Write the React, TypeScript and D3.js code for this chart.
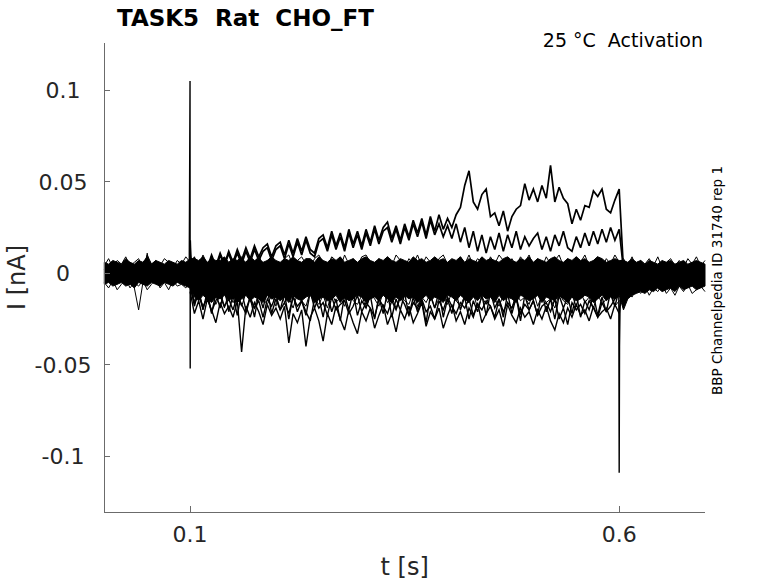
import * as d3 from 'd3'

const DT = 0.005
const STIM_START = 0.1

const X_TICKS = [0.1, 0.6]
const X_TICK_LABELS = ['0.1', '0.6']
const Y_TICKS = [-0.1, -0.05, 0, 0.05, 0.1]
const Y_TICK_LABELS = ['-0.1', '-0.05', '0', '0.05', '0.1']

// dense baseline band (envelope of the overlapping sweeps), t = 0 .. 0.7
const BAND_HI = [
  6, 5, 7, 6, 5, 8, 6, 5, 7, 6, 9, 5, 7, 6, 5, 7, 6, 5, 7, 6,
  8,
  8, 7, 9, 6, 8, 7, 7, 9, 6, 8, 7, 8, 6, 9, 7, 8, 6, 7, 9, 7,
  6, 8, 7, 9, 7, 6, 8, 8, 6, 9, 7, 6, 8, 7, 9, 6, 7, 8, 6, 8,
  9, 7, 6, 8, 7, 9, 7, 6, 8, 7, 6, 9, 7, 8, 6, 7, 9, 7, 8, 6,
  8, 7, 9, 6, 8, 7, 6, 9, 7, 8, 7, 6, 8, 9, 7, 6, 8, 7, 9, 6,
  8, 7, 6, 8, 9, 7, 6, 8, 7, 9, 7, 8, 6, 7, 9, 8, 6, 7, 8, 7,
  7, 6, 8, 6, 7, 5, 7, 6, 5, 7, 6, 7, 5, 6, 7, 5, 6, 7, 6, 5,
]
const BAND_LO = [
  -6, -5, -7, -6, -5, -7, -6, -8, -5, -6, -7, -5, -6, -7, -5, -6, -7, -5, -6, -7,
  -8,
  -13, -15, -12, -14, -16, -13, -14, -12, -15, -13, -16, -14, -12, -15, -13, -14, -16, -12, -14, -13,
  -15, -13, -16, -12, -14, -15, -13, -12, -16, -14, -13, -15, -14, -12, -16, -13, -15, -14, -12, -13,
  -16, -14, -13, -15, -12, -14, -16, -13, -15, -12, -14, -13, -16, -14, -12, -15, -13, -14, -16, -12,
  -13, -15, -12, -14, -16, -13, -15, -12, -14, -13, -16, -12, -15, -13, -14, -16, -12, -13, -15, -14,
  -12, -16, -13, -14, -15, -12, -14, -16, -13, -15, -14, -12, -13, -16, -14, -12, -15, -13, -14, -12,
  -20, -14, -12, -11, -10, -11, -9, -10, -8, -10, -9, -8, -10, -7, -9, -8, -7, -9, -8, -7,
]

// sweeps poking out of the band edges, t = 0 .. 0.7
const NOISE_TOP = [
  4, 8, 3, 7, 5, 9, 4, 6, 8, 3, 10, 5, 7, 4, 8, 6, 3, 7, 5, 9, 6,
  9, 4, 10, 5, 8, 3, 9, 6, 10, 4, 7, 9, 3, 8, 5, 10, 4, 7, 9, 5,
  3, 8, 10, 4, 7, 9, 5, 3, 8, 10, 6, 4, 9, 7, 3, 10, 5, 8, 4, 9,
  10, 6, 3, 8, 5, 9, 4, 10, 7, 3, 8, 5, 10, 4, 9, 6, 3, 8, 10, 5,
  7, 3, 9, 5, 10, 4, 8, 6, 3, 9, 5, 10, 7, 3, 8, 4, 9, 6, 10, 4,
  8, 3, 9, 5, 7, 10, 4, 8, 3, 9, 6, 10, 4, 7, 9, 3, 8, 5, 10, 6,
  8, 4, 9, 3, 7, 5, 8, 4, 9, 3, 6, 8, 4, 7, 3, 8, 5, 9, 4, 7,
]
const NOISE_BOT = [
  -5, -8, -4, -9, -6, -3, -8, -5, -7, -4, -9, -6, -3, -8, -5, -9, -4, -7, -6, -8, -5,
  -15, -11, -18, -13, -9, -17, -12, -19, -10, -16, -13, -18, -11, -15, -19, -10, -14, -17, -12, -18,
  -9, -16, -13, -19, -11, -15, -18, -10, -14, -17, -12, -19, -11, -16, -13, -18, -10, -15, -17, -12,
  -19, -11, -14, -18, -10, -16, -13, -19, -12, -15, -17, -10, -18, -13, -16, -11, -19, -14, -12, -17,
  -10, -15, -18, -12, -16, -11, -19, -13, -17, -10, -14, -18, -12, -16, -19, -11, -15, -13, -17, -10,
  -18, -12, -16, -14, -19, -11, -15, -17, -12, -18, -10, -16, -13, -19, -11, -17, -14, -12, -18, -15,
  -16, -10, -13, -8, -11, -7, -12, -8, -10, -6, -11, -8, -12, -7, -10, -6, -11, -9, -7, -10,
]

// pre-stimulus sweep with the isolated glitches, t = 0 .. 0.1
const PRE_TRACE = [2, -3, 5, -6, 3, -4, 6, -8, -20, -5, 11, -3, 4, -7, 2, -5, 6, -4, 3, -6, 1]

// sweeps during the step, t = 0.1 .. 0.6
const UP_TRACE_A = [
  2, 8, 1, 9, 3, 10, 4, 11, 5, 12, 6,
  13, 7, 14, 8, 15, 9, 14, 16, 9, 15,
  17, 10, 18, 11, 19, 12, 20, 13, 11, 19,
  21, 14, 23, 15, 22, 14, 24, 16, 23, 15,
  24, 17, 26, 18, 25, 28, 19, 26, 18, 27,
  20, 29, 22, 30, 21, 31, 23, 32, 24, 30,
  25, 32, 36, 48, 56, 39, 35, 43, 46, 31,
  33, 26, 34, 23, 31, 35, 37, 49, 40, 46,
  39, 48, 41, 59, 39, 47, 41, 38, 27, 35,
  29, 37, 36, 45, 42, 46, 35, 33, 40, 46,
]
const UP_TRACE_B = [
  1, 7, 0, 8, 2, 9, 3, 10, 4, 11, 5,
  11, 5, 12, 6, 13, 7, 12, 14, 7, 13,
  15, 8, 16, 9, 17, 10, 18, 11, 9, 17,
  19, 12, 21, 13, 20, 12, 22, 14, 21, 13,
  22, 15, 24, 16, 23, 25, 17, 24, 16, 25,
  18, 27, 20, 28, 19, 29, 21, 27, 20, 26,
  19, 27, 17, 25, 14, 23, 12, 21, 11, 20,
  13, 22, 12, 21, 14, 23, 13, 20, 15, 19,
  22, 13, 20, 12, 21, 15, 23, 14, 12, 20,
  14, 22, 15, 23, 16, 24, 17, 25, 18, 24,
]
const LOW_TRACE_C = [
  -10, -22, -15, -25, -14, -20, -27, -16, -22, -18, -24,
  -15, -43, -18, -24, -16, -21, -28, -17, -23, -19,
  -25, -18, -38, -22, -27, -20, -40, -24, -19, -26,
  -37, -22, -28, -18, -25, -31, -20, -27, -33, -21,
  -26, -19, -30, -23, -17, -28, -22, -32, -20, -25,
  -18, -27, -22, -16, -29, -21, -25, -19, -30, -23,
  -17, -26, -21, -28, -19, -24, -16, -27, -22, -18,
  -25, -20, -29, -17, -23, -27, -19, -24, -21, -28,
  -20, -25, -18, -26, -31, -22, -27, -19, -24, -17,
  -23, -20, -26, -18, -24, -21, -19, -25, -17, -22,
]
const LOW_TRACE_D = [
  -8, -16, -12, -19, -13, -21, -15, -11, -18, -14, -20,
  -12, -17, -22, -13, -19, -15, -24, -14, -18, -12,
  -20, -16, -22, -13, -18, -15, -21, -26, -14, -19,
  -16, -23, -13, -20, -17, -15, -22, -18, -12, -21,
  -16, -19, -24, -14, -18, -22, -15, -20, -13, -17,
  -23, -16, -19, -14, -21, -18, -25, -15, -20, -13,
  -18, -22, -16, -19, -14, -23, -17, -20, -15, -18,
  -24, -14, -21, -16, -19, -13, -22, -17, -20, -15,
  -23, -18, -16, -21, -14, -25, -19, -28, -16, -20,
  -17, -22, -15, -19, -24, -16, -21, -18, -14, -12,
]
const LOW_TRACE_E = [
  -6, -18, -9, -20, -10, -22, -11, -19, -8, -21, -12,
  -23, -10, -20, -13, -24, -11, -19, -9, -22, -14,
  -20, -11, -25, -12, -21, -15, -23, -10, -19, -13,
  -24, -11, -21, -14, -26, -12, -20, -10, -23, -15,
  -19, -12, -25, -13, -22, -10, -24, -14, -20, -11,
  -23, -13, -21, -15, -27, -12, -19, -10, -24, -14,
  -22, -11, -20, -13, -25, -15, -21, -12, -23, -10,
  -19, -14, -24, -11, -22, -13, -26, -12, -20, -15,
  -23, -10, -21, -14, -25, -12, -19, -13, -22, -11,
  -24, -15, -20, -12, -23, -13, -21, -10, -18, -9,
]

// capacitive transients at step on/off
const ON_T = [0.099, 0.0999, 0.1001, 0.1003, 0.1006, 0.101, 0.1015, 0.103]
const ON_V = [3, 105, -52, 18, 14, 10, 7, 4]
const OFF_T = [0.5995, 0.6, 0.6004, 0.6009, 0.6016, 0.603, 0.606]
const OFF_V = [0, -109, -40, -22, -14, -10, -6]

const W = 778
const H = 583
const TXT = '#262626'
const FONT = 'DejaVu Sans'

export default function App() {
  const x = d3.scaleLinear().domain([0, 0.7]).range([104.3, 705])
  const y = d3.scaleLinear().domain([-0.1304, 0.1258]).range([512, 43])
  const [x0, x1] = x.range()
  const [yb, yt] = y.range()

  const line = d3.line<[number, number]>().x((d) => x(d[0])).y((d) => y(d[1] / 1000))
  const sweep = (vals: number[], t0: number) => line(vals.map((v, i) => [t0 + i * DT, v] as [number, number]))

  const band = d3.area<number>()
    .x((_, i) => x(i * DT))
    .y0((_, i) => y(BAND_LO[i] / 1000))
    .y1((d) => y(d / 1000))

  const withDrop = (vals: number[]) => sweep([...vals, 2], STIM_START)

  return (
    <div style={{ position: 'fixed', left: 0, top: 0 }}>
      <svg width={W} height={H} style={{ display: 'block', background: '#fff' }}>
        {/* traces */}
        <g fill="none" stroke="#000" strokeWidth={1.4} strokeLinejoin="miter" strokeMiterlimit={3}>
          <path d={band(BAND_HI) ?? ''} fill="#000" stroke="#000" strokeWidth={1} />
          <path d={sweep(NOISE_TOP, 0) ?? ''} strokeWidth={1} />
          <path d={sweep(NOISE_BOT, 0) ?? ''} strokeWidth={1} />
          <path d={sweep(PRE_TRACE, 0) ?? ''} strokeWidth={1} />
          <path d={sweep(LOW_TRACE_E, STIM_START) ?? ''} />
          <path d={sweep(LOW_TRACE_D, STIM_START) ?? ''} />
          <path d={sweep(LOW_TRACE_C, STIM_START) ?? ''} />
          <path d={withDrop(UP_TRACE_B) ?? ''} strokeWidth={1.7} />
          <path d={withDrop(UP_TRACE_A) ?? ''} strokeWidth={1.7} />
          <path d={line(ON_T.map((t, i) => [t, ON_V[i]] as [number, number])) ?? ''} strokeWidth={1.4} />
          <path d={line(OFF_T.map((t, i) => [t, OFF_V[i]] as [number, number])) ?? ''} strokeWidth={1.4} />
        </g>

        {/* axes */}
        <g stroke="#6b6b6b" strokeWidth={1} shapeRendering="crispEdges">
          <line x1={x0} x2={x0} y1={yt} y2={yb} />
          <line x1={x0} x2={x1} y1={yb} y2={yb} />
          {Y_TICKS.map((t) => (
            <line key={'yt' + t} x1={x0} x2={x0 + 6} y1={y(t)} y2={y(t)} />
          ))}
          {X_TICKS.map((t) => (
            <line key={'xt' + t} x1={x(t)} x2={x(t)} y1={yb} y2={yb - 6} />
          ))}
        </g>

        <g fontFamily={FONT} fill={TXT}>
          {Y_TICKS.map((t, i) => (
            <text key={'yl' + t} x={63} y={y(t)} dy="0.36em" textAnchor="middle" fontSize={22}>
              {Y_TICK_LABELS[i]}
            </text>
          ))}
          {X_TICKS.map((t, i) => (
            <text key={'xl' + t} x={x(t)} y={542} textAnchor="middle" fontSize={22}>
              {X_TICK_LABELS[i]}
            </text>
          ))}
          <text x={(x0 + x1) / 2} y={575} textAnchor="middle" fontSize={24}>t [s]</text>
          <text transform={`translate(25,${(yt + yb) / 2}) rotate(-90)`} textAnchor="middle" fontSize={24}>I [nA]</text>
          <text x={117} y={26} fontSize={23} fontWeight="bold" fill="#000" style={{ whiteSpace: 'pre' }}>
            {'TASK5  Rat  CHO_FT'}
          </text>
          <text x={703} y={47} textAnchor="end" fontSize={19} fill="#000" style={{ whiteSpace: 'pre' }}>
            {'25 °C  Activation'}
          </text>
          <text transform="translate(721.5,395) rotate(-90)" fontSize={13.5} fill="#000">
            BBP Channelpedia ID 31740 rep 1
          </text>
        </g>
      </svg>
    </div>
  )
}
